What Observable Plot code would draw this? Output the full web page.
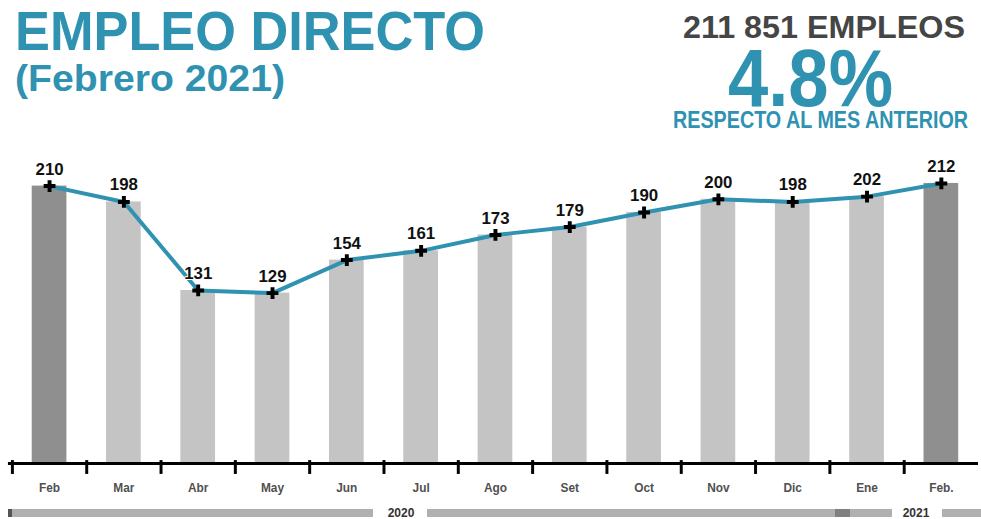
<!DOCTYPE html>
<html>
<head>
<meta charset="utf-8">
<script src="https://cdn.jsdelivr.net/npm/d3@7"></script>
<script src="https://cdn.jsdelivr.net/npm/@observablehq/plot@0.6"></script>
<style>
  html, body { margin: 0; padding: 0; background: #fff; overflow: hidden; }
  #wrap { position: relative; width: 981px; height: 519px; overflow: hidden; font-family: "Liberation Sans", Arial, sans-serif; }
  .t { position: absolute; white-space: nowrap; font-weight: bold; line-height: 0.75; transform-origin: 0 0; }
  #plot { position: absolute; left: 0; top: 141px; }
  .band { position: absolute; height: 8px; background: #b0b0b0; }
  .yr { position: absolute; font: bold 12px "Liberation Sans", Arial, sans-serif; color: #333; line-height: 1; }
</style>
</head>
<body>
<div id="wrap"></div>
<script>
// ---- data ----
const months = ["Feb", "Mar", "Abr", "May", "Jun", "Jul", "Ago", "Set", "Oct", "Nov", "Dic", "Ene", "Feb."];
const values = [210, 198, 131, 129, 154, 161, 173, 179, 190, 200, 198, 202, 212];
const highlighted = ["Feb", "Feb."];
const years = ["2020", "2021"];
const title = "EMPLEO DIRECTO";
const subtitle = "(Febrero 2021)";
const kpiTotal = "211 851 EMPLEOS";
const kpiPct = "4.8%";
const kpiNote = "RESPECTO AL MES ANTERIOR";

const teal = "#2e92b0";
const data = months.map((m, i) => ({month: m, value: values[i], fill: highlighted.includes(m) ? "#8f8f8f" : "#c4c4c4"}));

const wrap = document.getElementById("wrap");

// ---- header texts ----
function addText(text, left, baseline, fs, width, color) {
  const d = document.createElement("div");
  d.className = "t";
  d.textContent = text;
  d.style.fontSize = fs + "px";
  d.style.color = color;
  d.style.left = left + "px";
  d.style.top = (baseline - 0.7215 * fs) + "px";
  wrap.appendChild(d);
  const w = d.getBoundingClientRect().width;
  d.style.transform = `scaleX(${width / w})`;
}
addText(title, 15, 50, 56, 470, teal);
addText(subtitle, 15, 92, 37, 270, teal);
addText(kpiTotal, 683, 38, 32, 282, "#454545");
addText(kpiPct, 728, 106, 82, 165, teal);
addText(kpiNote, 673, 128, 24, 295, teal);

// ---- chart ----
const plot = Plot.plot({
  width: 990,
  height: 360,
  marginLeft: 12,
  marginRight: 3,
  marginTop: 5,
  marginBottom: 35,
  x: {type: "band", domain: months, paddingInner: 0.53, paddingOuter: 0.265, axis: null, label: null},
  y: {domain: [0, 240], axis: null},
  style: {fontFamily: "Liberation Sans, Arial, sans-serif", background: "transparent"},
  marks: [
    Plot.barY(data, {x: "month", y: "value", fill: "fill"}),
    Plot.ruleY([0], {stroke: "black", strokeWidth: 3, insetLeft: -4}),
    Plot.axisX({tickSize: 14, dx: -37.5, dy: -3, strokeWidth: 3, stroke: "black", tickFormat: () => "", label: null}),
    Plot.axisX({tickSize: 0, tickPadding: 20, fontSize: 12, fontWeight: "bold", fill: "#505050", label: null}),
    Plot.line(data, {x: "month", y: "value", stroke: teal, strokeWidth: 4}),
    Plot.dot(data, {x: "month", y: "value", symbol: "cross", r: 5, fill: "black"}),
    Plot.text(data, {x: "month", y: "value", text: d => String(d.value), dy: -17, fontSize: 17, fontWeight: "bold", fill: "#111", stroke: "white", strokeWidth: 2})
  ]
});
const holder = document.createElement("div");
holder.id = "plot";
holder.appendChild(plot);
wrap.appendChild(holder);

// ---- year bands ----
function band(left, width, color) {
  const b = document.createElement("div");
  b.className = "band";
  b.style.left = left + "px";
  b.style.width = width + "px";
  b.style.top = "509px";
  if (color) b.style.background = color;
  wrap.appendChild(b);
}
band(8, 365);
band(8, 4, "#555");
band(427, 465);
band(835, 15, "#808080");
band(942, 40);
function yr(text, cx) {
  const y = document.createElement("div");
  y.className = "yr";
  y.textContent = text;
  y.style.top = "507px";
  wrap.appendChild(y);
  const w = y.getBoundingClientRect().width;
  y.style.left = (cx - w / 2) + "px";
}
yr(years[0], 401);
yr(years[1], 916);
</script>
</body>
</html>
